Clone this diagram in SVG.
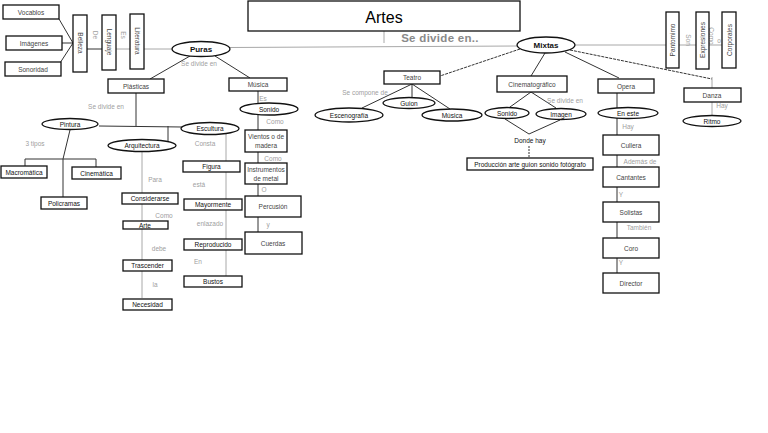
<svg xmlns="http://www.w3.org/2000/svg" width="768" height="433" viewBox="0 0 768 433">
<style>
.bx{fill:#fff;stroke:#111;stroke-width:1.3}
.el{fill:#fff;stroke:#111;stroke-width:1.3}
.t{font-family:"Liberation Sans","Noto Sans",sans-serif;font-size:6.5px;fill:#444;text-anchor:middle;dominant-baseline:central}
.d{fill:#111}
.b{font-weight:bold;font-size:8px;fill:#111}
.g{font-family:"Liberation Sans","Noto Sans",sans-serif;font-size:6.5px;fill:#a0a0a0;text-anchor:middle;dominant-baseline:central}
.ln{stroke:#333;stroke-width:1;fill:none}
.lg{stroke:#a8a8a8;stroke-width:1;fill:none}
</style>
<rect width="768" height="433" fill="#fff"/>
<g id="connectors">
<line class="ln" x1="59" y1="19" x2="73" y2="43"/>
<line class="ln" x1="62" y1="43" x2="73" y2="43"/>
<line class="ln" x1="60" y1="63" x2="73" y2="43"/>
<line class="ln" x1="87" y1="49" x2="102" y2="49"/>
<line class="lg" x1="116" y1="49" x2="130" y2="49"/>
<line class="lg" x1="144" y1="49" x2="172" y2="49"/>
<line class="lg" x1="384" y1="31" x2="384" y2="43"/>
<line class="lg" x1="230" y1="47.5" x2="517" y2="46" stroke-width="1.6"/>
<line class="lg" x1="575" y1="45" x2="666" y2="45" stroke-width="1.6"/>
<line class="lg" x1="679" y1="45" x2="696" y2="45"/>
<line class="lg" x1="709" y1="45" x2="722" y2="45"/>
<line class="ln" x1="570" y1="50" x2="712" y2="79" stroke="#666" stroke-dasharray="3 1"/>
<line class="lg" x1="712" y1="77" x2="712" y2="88"/>
<line class="lg" x1="712" y1="102" x2="712" y2="115"/>
<line class="ln" x1="565" y1="52" x2="619" y2="78" stroke="#555"/>
<line class="ln" x1="545" y1="53" x2="531" y2="76" stroke="#555"/>
<line class="ln" x1="520" y1="49" x2="440" y2="76" stroke="#555" stroke-dasharray="3 1"/>
<line class="ln" x1="412" y1="84" x2="362" y2="108" stroke="#555"/>
<line class="ln" x1="412" y1="84" x2="412" y2="97"/>
<line class="ln" x1="412" y1="84" x2="450" y2="109" stroke="#555"/>
<line class="ln" x1="531" y1="92" x2="510" y2="107" stroke="#555"/>
<line class="ln" x1="531" y1="92" x2="556" y2="108" stroke="#555"/>
<line class="ln" x1="505" y1="119" x2="529" y2="134" stroke="#666"/>
<line class="ln" x1="560" y1="120" x2="529" y2="134" stroke="#666"/>
<line class="ln" x1="529" y1="146" x2="529" y2="157" stroke-dasharray="2 1"/>
<line class="ln" x1="617" y1="93" x2="617" y2="274"/>
<line class="ln" x1="190" y1="56" x2="150" y2="79" stroke="#555"/>
<line class="ln" x1="215" y1="56" x2="250" y2="78" stroke="#555"/>
<line class="ln" x1="258" y1="91" x2="258" y2="233"/>
<line class="ln" x1="136" y1="93" x2="136" y2="126"/>
<line class="ln" x1="99" y1="126" x2="182" y2="127" stroke="#555"/>
<line class="ln" x1="168" y1="126" x2="168" y2="141" stroke="#555"/>
<line class="ln" x1="70" y1="130" x2="63" y2="159" stroke="#555"/>
<line class="ln" x1="25" y1="159" x2="96" y2="159" stroke="#555"/>
<line class="ln" x1="25" y1="159" x2="25" y2="166" stroke="#555"/>
<line class="ln" x1="96" y1="159" x2="96" y2="167" stroke="#555"/>
<line class="ln" x1="63" y1="159" x2="63" y2="197"/>
<line class="lg" x1="142" y1="152" x2="142" y2="298"/>
<line class="lg" x1="226" y1="134" x2="226" y2="276"/>
</g>
<g id="labels">
<text class="g" transform="translate(95,35) rotate(90)">De</text>
<text class="g" transform="translate(123,35) rotate(90)">Es</text>
<text class="g" x="199" y="63">Se divide en</text>
<text x="440" y="38" font-family="Liberation Sans,sans-serif" font-size="11.5" font-weight="bold" fill="#8a8a8a" text-anchor="middle" dominant-baseline="central" letter-spacing="0.3">Se divide en..</text>
<text class="g" transform="translate(688,40) rotate(90)">Son</text>
<text class="g" transform="translate(711,36) rotate(90)">Como</text>
<text class="g" x="719" y="40">o</text>
<text class="g" x="722" y="105">Hay</text>
<text class="g" x="365" y="92">Se compone de</text>
<text class="g" x="565" y="100">Se divide en</text>
<text class="t d" x="530" y="140">Donde hay</text>
<text class="g" x="628" y="126">Hay</text>
<text class="g" x="640" y="161">Además de</text>
<text class="g" x="621" y="194">Y</text>
<text class="g" x="639" y="227">También</text>
<text class="g" x="621" y="262">Y</text>
<text class="g" x="263" y="98">Es</text>
<text class="g" x="275" y="121">Como</text>
<text class="g" x="273" y="158">Como</text>
<text class="g" x="264" y="189">O</text>
<text class="g" x="268" y="224">y</text>
<text class="g" x="106" y="106">Se divide en</text>
<text class="g" x="35" y="143">3 tipos</text>
<text class="g" x="205" y="143">Consta</text>
<text class="g" x="199" y="184">está</text>
<text class="g" x="210" y="223">enlazado</text>
<text class="g" x="198" y="261">En</text>
<text class="g" x="155" y="179">Para</text>
<text class="g" x="164" y="215">Como</text>
<text class="g" x="159" y="248">debe</text>
<text class="g" x="155" y="284">la</text>
</g>
<g id="artes"><rect class="bx" x="248" y="1" width="272" height="30"/><text x="384" y="17" font-family="Liberation Sans,sans-serif" font-size="16" fill="#000" text-anchor="middle" dominant-baseline="central">Artes</text></g>
<g id="vocablos"><rect class="bx" x="3" y="5" width="56" height="14"/><text class="t" x="31" y="12">Vocablos</text></g>
<g id="imagenes"><rect class="bx" x="6" y="36" width="56" height="14"/><text class="t" x="34" y="43">Imágenes</text></g>
<g id="sonoridad"><rect class="bx" x="5" y="62" width="56" height="14"/><text class="t" x="33" y="69">Sonoridad</text></g>
<g id="belleza"><rect class="bx" x="73" y="15" width="14" height="57"/><text class="t" transform="translate(80,43) rotate(90)">Belleza</text></g>
<g id="lenguaje"><rect class="bx" x="102" y="15" width="14" height="55"/><text class="t" transform="translate(109,42) rotate(90)">Lenguaje</text></g>
<g id="literatura"><rect class="bx" x="130" y="14" width="14" height="55"/><text class="t" transform="translate(137,41) rotate(90)">Literatura</text></g>
<g id="puras"><ellipse class="el" cx="201" cy="49" rx="29" ry="7.5"/><text class="t b" x="201" y="49">Puras</text></g>
<g id="mixtas"><ellipse class="el" cx="546" cy="45" rx="29" ry="8"/><text class="t b" x="546" y="45">Mixtas</text></g>
<g id="pantomimo"><rect class="bx" x="666" y="12" width="13" height="56"/><text class="t" transform="translate(672.5,40) rotate(-90)">Pantomimo</text></g>
<g id="expresiones"><rect class="bx" x="696" y="12" width="13" height="57"/><text class="t" transform="translate(702.5,40) rotate(-90)">Expresiones</text></g>
<g id="corporales"><rect class="bx" x="722" y="12" width="14" height="56"/><text class="t" transform="translate(729,40) rotate(-90)">Corporales</text></g>
<g id="danza"><rect class="bx" x="684" y="88" width="57" height="14"/><text class="t" x="712" y="95">Danza</text></g>
<g id="ritmo"><ellipse class="el" cx="712" cy="121" rx="29" ry="5.5"/><text class="t d" x="712" y="121">Ritmo</text></g>
<g id="opera"><rect class="bx" x="598" y="79" width="56" height="14"/><text class="t" x="626" y="86">Opera</text></g>
<g id="en-este"><ellipse class="el" cx="628" cy="113" rx="30" ry="5.5"/><text class="t d" x="628" y="113">En este</text></g>
<g id="cullera"><rect class="bx" x="603" y="135" width="56" height="20"/><text class="t" x="631" y="145">Cullera</text></g>
<g id="cantantes"><rect class="bx" x="603" y="167" width="56" height="20"/><text class="t" x="631" y="177">Cantantes</text></g>
<g id="solistas"><rect class="bx" x="603" y="202" width="56" height="20"/><text class="t" x="631" y="212">Solistas</text></g>
<g id="coro"><rect class="bx" x="603" y="238" width="56" height="20"/><text class="t" x="631" y="248">Coro</text></g>
<g id="director"><rect class="bx" x="603" y="273" width="56" height="20"/><text class="t" x="631" y="283">Director</text></g>
<g id="cinematografico"><rect class="bx" x="497" y="76" width="70" height="16"/><text class="t" x="532" y="84">Cinematográfico</text></g>
<g id="sonido-cine"><ellipse class="el" cx="507" cy="113" rx="22" ry="5.5"/><text class="t d" x="507" y="113">Sonido</text></g>
<g id="imagen"><ellipse class="el" cx="561" cy="114" rx="25" ry="5.5"/><text class="t d" x="561" y="114">Imagen</text></g>
<g id="produccion"><rect class="bx" x="467" y="158" width="126" height="12"/><text class="t d" x="530" y="164">Producción arte guion sonido fotógrafo</text></g>
<g id="teatro"><rect class="bx" x="384" y="71" width="56" height="13"/><text class="t" x="412" y="77.5">Teatro</text></g>
<g id="escenografia"><ellipse class="el" cx="349" cy="115" rx="34" ry="7"/><text class="t d" x="349" y="115">Escenografía</text></g>
<g id="guion"><ellipse class="el" cx="409" cy="103" rx="26" ry="5.5"/><text class="t d" x="409" y="103">Guion</text></g>
<g id="musica-teatro"><ellipse class="el" cx="452" cy="115" rx="30" ry="6"/><text class="t d" x="452" y="115">Música</text></g>
<g id="plasticas"><rect class="bx" x="108" y="79" width="56" height="14"/><text class="t" x="136" y="86">Plásticas</text></g>
<g id="musica"><rect class="bx" x="229" y="78" width="58" height="13"/><text class="t" x="258" y="84.5">Música</text></g>
<g id="sonido"><ellipse class="el" cx="269" cy="109" rx="29" ry="6"/><text class="t d" x="269" y="109">Sonido</text></g>
<g id="vientos"><rect class="bx" x="245" y="130" width="42" height="22"/><text class="t" x="266" y="136">Vientos o de</text><text class="t" x="266" y="145">madera</text></g>
<g id="instrumentos"><rect class="bx" x="245" y="163" width="42" height="21"/><text class="t" x="266" y="169">Instrumentos</text><text class="t" x="266" y="178">de metal</text></g>
<g id="percusion"><rect class="bx" x="245" y="196" width="56" height="21"/><text class="t" x="273" y="206.5">Percusión</text></g>
<g id="cuerdas"><rect class="bx" x="245" y="232" width="57" height="22"/><text class="t" x="273" y="243">Cuerdas</text></g>
<g id="pintura"><ellipse class="el" cx="70" cy="124" rx="28" ry="5.5"/><text class="t d" x="70" y="124">Pintura</text></g>
<g id="escultura"><ellipse class="el" cx="210" cy="128.5" rx="29" ry="6"/><text class="t d" x="210" y="128.5">Escultura</text></g>
<g id="arquitectura"><ellipse class="el" cx="142" cy="145.5" rx="34" ry="6"/><text class="t d" x="142" y="145.5">Arquitectura</text></g>
<g id="macromatica"><rect class="bx" x="1" y="166" width="46" height="12"/><text class="t d" x="24" y="172">Macromática</text></g>
<g id="cinematica"><rect class="bx" x="72" y="167" width="49" height="12"/><text class="t d" x="96.5" y="173">Cinemática</text></g>
<g id="policramas"><rect class="bx" x="41" y="197" width="46" height="12"/><text class="t d" x="64" y="203">Policramas</text></g>
<g id="considerarse"><rect class="bx" x="122" y="193" width="56" height="11"/><text class="t d" x="150" y="198.5">Considerarse</text></g>
<g id="arte"><rect class="bx" x="123" y="221" width="45" height="8"/><text class="t d" x="145" y="225">Arte</text></g>
<g id="trascender"><rect class="bx" x="123" y="260" width="49" height="11"/><text class="t d" x="147.5" y="265.5">Trascender</text></g>
<g id="necesidad"><rect class="bx" x="123" y="299" width="49" height="11"/><text class="t d" x="147.5" y="304.5">Necesidad</text></g>
<g id="figura"><rect class="bx" x="183" y="161" width="57" height="11"/><text class="t d" x="211.5" y="166.5">Figura</text></g>
<g id="mayormente"><rect class="bx" x="184" y="199" width="58" height="11"/><text class="t d" x="213" y="204.5">Mayormente</text></g>
<g id="reproducido"><rect class="bx" x="184" y="239" width="58" height="11"/><text class="t d" x="213" y="244.5">Reproducido</text></g>
<g id="bustos"><rect class="bx" x="184" y="276" width="58" height="11"/><text class="t d" x="213" y="281.5">Bustos</text></g>
</svg>
